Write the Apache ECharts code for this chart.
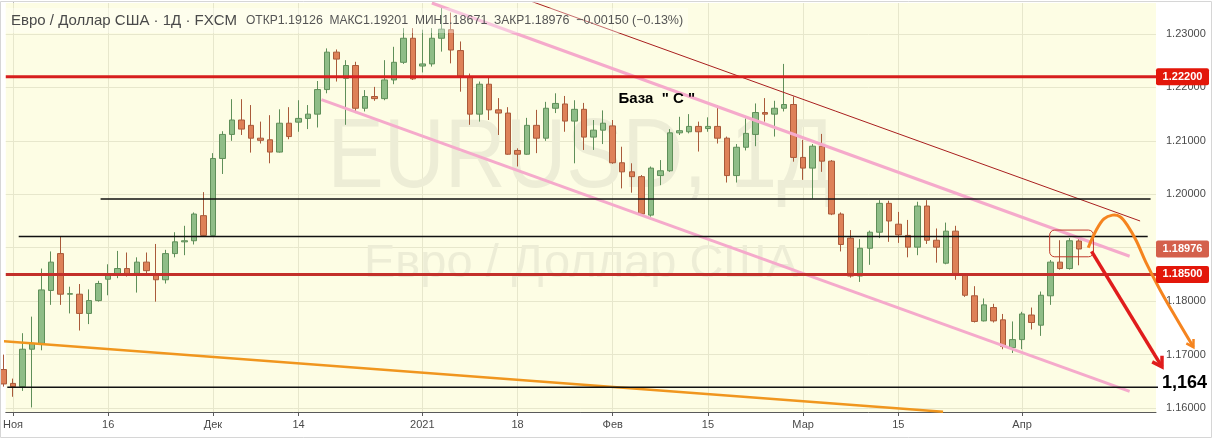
<!DOCTYPE html>
<html>
<head>
<meta charset="utf-8">
<script src="https://cdn.jsdelivr.net/npm/echarts@6/dist/echarts.min.js"></script>
<style>
  html, body { margin: 0; padding: 0; background: #fff; }
  #chart { width: 1212px; height: 439px; }
</style>
</head>
<body>
<div id="chart"></div>
<script>
// EUR/USD daily, FXCM. bar index 0 = 2 Nov 2020, index 112 = 9 Apr 2021
// the first entry (index -1, 30 Oct) is cut off by the left edge
const firstBar = -1
const opens = [
  1.1672, 1.1646, 1.1640, 1.1710, 1.1721, 1.1820, 1.1889, 1.1813, 1.1813, 1.1777,
  1.1801, 1.1841, 1.1849, 1.1861, 1.1852, 1.1873, 1.1851, 1.1840, 1.1889, 1.1911,
  1.1913, 1.1960, 1.1923, 1.2067, 1.2112, 1.2139, 1.2129, 1.2105, 1.2102, 1.2079,
  1.2133, 1.2135, 1.2142, 1.2150, 1.2196, 1.2266, 1.2217, 1.2241, 1.2161, 1.2183,
  1.2179, 1.2214, 1.2247, 1.2292, 1.2240, 1.2244, 1.2292, 1.2308, 1.2269, 1.2219,
  1.2150, 1.2206, 1.2158, 1.2152, 1.2082, 1.2075, 1.2129, 1.2105, 1.2161, 1.2169,
  1.2137, 1.2159, 1.2107, 1.2120, 1.2128, 1.2059, 1.2042, 1.2033, 1.1961, 1.2035,
  1.2044, 1.2115, 1.2117, 1.2127, 1.2123, 1.2127, 1.2105, 1.2035, 1.2088, 1.2112,
  1.2153, 1.2150, 1.2161, 1.2168, 1.2069, 1.2049, 1.2090, 1.2062, 1.1963, 1.1918,
  1.1847, 1.1899, 1.1929, 1.1983, 1.1944, 1.1923, 1.1901, 1.1978, 1.1914, 1.1871,
  1.1931, 1.1849, 1.1810, 1.1763, 1.1788, 1.1765, 1.1713, 1.1728, 1.1774, 1.1755,
  1.1810, 1.1873, 1.1861, 1.19126
]
const closes = [
  1.1645, 1.1640, 1.1710, 1.1721, 1.1821, 1.1873, 1.1813, 1.1814, 1.1777, 1.1801,
  1.1833, 1.1849, 1.1861, 1.1849, 1.1873, 1.1857, 1.1840, 1.1889, 1.1911, 1.1913,
  1.1963, 1.1923, 1.2067, 1.2112, 1.2139, 1.2122, 1.2105, 1.2101, 1.2079, 1.2133,
  1.2108, 1.2142, 1.2150, 1.2196, 1.2266, 1.2253, 1.2241, 1.2161, 1.2183, 1.2179,
  1.2214, 1.2247, 1.2292, 1.2216, 1.2244, 1.2292, 1.2309, 1.2270, 1.2221, 1.2150,
  1.2206, 1.2158, 1.2152, 1.2075, 1.2075, 1.2129, 1.2105, 1.2161, 1.2170, 1.2137,
  1.2159, 1.2107, 1.2120, 1.2133, 1.2059, 1.2042, 1.2033, 1.1963, 1.2049, 1.2044,
  1.2115, 1.2119, 1.2127, 1.2117, 1.2127, 1.2105, 1.2035, 1.2088, 1.2114, 1.2153,
  1.2150, 1.2161, 1.2168, 1.2069, 1.2049, 1.2090, 1.2062, 1.1963, 1.1906, 1.1847,
  1.1899, 1.1929, 1.1983, 1.1950, 1.1924, 1.1901, 1.1978, 1.1914, 1.1901, 1.1931,
  1.1849, 1.1811, 1.1762, 1.1793, 1.1763, 1.1715, 1.1728, 1.1776, 1.1760, 1.1811,
  1.1873, 1.1861, 1.1913, 1.18976
]
const lows = [
  1.1640, 1.1621, 1.1632, 1.1601, 1.1708, 1.1793, 1.1793, 1.1777, 1.1745, 1.1757,
  1.1799, 1.1811, 1.1843, 1.1846, 1.1816, 1.1847, 1.1799, 1.1833, 1.1882, 1.1886,
  1.1906, 1.1921, 1.1921, 1.2038, 1.2100, 1.2111, 1.2078, 1.2095, 1.2058, 1.2078,
  1.2103, 1.2117, 1.2122, 1.2125, 1.2189, 1.2211, 1.2130, 1.2152, 1.2155, 1.2175,
  1.2176, 1.2206, 1.2244, 1.2214, 1.2228, 1.2239, 1.2267, 1.2245, 1.2192, 1.2130,
  1.2136, 1.2139, 1.2111, 1.2074, 1.2052, 1.2074, 1.2077, 1.2100, 1.2152, 1.2117,
  1.2058, 1.2083, 1.2083, 1.2094, 1.2057, 1.2011, 1.2003, 1.1961, 1.1958, 1.2017,
  1.2042, 1.2111, 1.2114, 1.2080, 1.2117, 1.2095, 1.2022, 1.2022, 1.2082, 1.2090,
  1.2136, 1.2108, 1.2155, 1.2061, 1.2027, 1.1992, 1.2042, 1.1961, 1.1893, 1.1844,
  1.1836, 1.1868, 1.1918, 1.1911, 1.1909, 1.1882, 1.1886, 1.1907, 1.1872, 1.1869,
  1.1840, 1.1808, 1.1760, 1.1762, 1.1760, 1.1710, 1.1703, 1.1710, 1.1747, 1.1735,
  1.1793, 1.1859, 1.1859, 1.18671
]
const highs = [
  1.1700, 1.1655, 1.1740, 1.1771, 1.1861, 1.1893, 1.1921, 1.1827, 1.1832, 1.1822,
  1.1838, 1.1869, 1.1894, 1.1891, 1.1882, 1.1891, 1.1907, 1.1896, 1.1929, 1.1941,
  1.1966, 1.2004, 1.2077, 1.2118, 1.2178, 1.2178, 1.2167, 1.2136, 1.2148, 1.2159,
  1.2163, 1.2176, 1.2167, 1.2212, 1.2273, 1.2271, 1.2251, 1.2248, 1.2195, 1.2201,
  1.2251, 1.2276, 1.2311, 1.2311, 1.2308, 1.2311, 1.2349, 1.2340, 1.2286, 1.2226,
  1.2211, 1.2220, 1.2180, 1.2163, 1.2086, 1.2143, 1.2158, 1.2173, 1.2189, 1.2184,
  1.2176, 1.2171, 1.2139, 1.2157, 1.2139, 1.2089, 1.2058, 1.2036, 1.2052, 1.2064,
  1.2122, 1.2145, 1.2150, 1.2136, 1.2144, 1.2167, 1.2108, 1.2094, 1.2142, 1.2170,
  1.2180, 1.2175, 1.2244, 1.2183, 1.2102, 1.2094, 1.2113, 1.2064, 1.1966, 1.1933,
  1.1916, 1.1932, 1.1989, 1.1988, 1.1967, 1.1952, 1.1986, 1.1989, 1.1936, 1.1947,
  1.1941, 1.1852, 1.1828, 1.1805, 1.1795, 1.1776, 1.1762, 1.1780, 1.1788, 1.1818,
  1.1877, 1.1914, 1.1918, 1.19201
]

// axis labels
const dateTickIdx = [0, 10, 21, 30, 43, 53, 63, 73, 83, 93, 106]
const dateTickText = ['Ноя', '16', 'Дек', '14', '2021', '18', 'Фев', '15', 'Мар', '15', 'Апр']
const priceTicks = [1.16, 1.17, 1.18, 1.19, 1.20, 1.21, 1.22, 1.23]

// drawings, as [bar index, price]
const redLevels = [1.222, 1.185]
const levelTop = [[9.2, 1.1991], [119.5, 1.1991]]
const levelMid = [[0.6, 1.1921], [119.2, 1.1921]]
const levelLow = [[-0.6, 1.1639], [121, 1.1639]]
const channelTop = [[44.0, 1.2358], [117.3, 1.1884]]
const channelBottom = [[32.4, 1.2177], [117.3, 1.1631]]
const thinTrend = [[54.0, 1.2364], [118.4, 1.1950]]
const longTrend = [[-1.0, 1.1725], [97.7, 1.1593]]
const orangePath = [
  [112.95, 1.1900], [113.8, 1.1933], [114.6, 1.1954], [115.5, 1.1961], [116.3, 1.1958],
  [117.1, 1.1941], [118.0, 1.1913], [119.0, 1.1873], [120.5, 1.1821], [122.3, 1.1765], [124.0, 1.1714]
]
const redArrow = [[113.3, 1.1893], [120.7, 1.1677]]
const markBox = [[108.9, 1.1933], [113.5, 1.1883]]
const baseLabel = { text: 'База  " С "', at: [63.6, 1.2178] }
const priceTags = [1.222, 1.18976, 1.185]
const targetLabel = { text: '1,164', price: 1.1639 }

const viewFrom = -0.76
const viewTo = 120.07
const priceMin = 1.15925
const priceMax = 1.2358

const candles = opens.map((o, k) => [firstBar + k, o, closes[k], lows[k], highs[k]])

const font = 'Liberation Sans'

function line(data, color, width, extra) {
  return Object.assign({
    type: 'line',
    data: data,
    symbol: 'none',
    silent: true,
    z: 3,
    lineStyle: { color: color, width: width }
  }, extra || {})
}

const chart = echarts.init(document.getElementById('chart'))

const option = {
  animation: false,
  backgroundColor: '#ffffff',
  textStyle: { fontFamily: font },
  grid: {
    left: 2, right: 56, top: 3, bottom: 27,
    show: true, backgroundColor: '#fdfde4', borderWidth: 0
  },
  xAxis: {
    type: 'value',
    min: viewFrom,
    max: viewTo,
    axisLine: { show: true, onZero: false, lineStyle: { color: '#5a5a5a' } },
    axisTick: { show: true, customValues: dateTickIdx, length: 4, lineStyle: { color: '#5a5a5a' } },
    axisLabel: {
      customValues: dateTickIdx,
      formatter: v => dateTickText[dateTickIdx.indexOf(v)],
      color: '#4a4a4a', fontSize: 11, margin: 7
    },
    splitLine: { show: false }
  },
  yAxis: {
    type: 'value',
    position: 'right',
    min: priceMin,
    max: priceMax,
    axisLine: { show: true, lineStyle: { color: '#5a5a5a' } },
    axisTick: { show: true, customValues: priceTicks, length: 5, lineStyle: { color: '#5a5a5a' } },
    axisLabel: {
      customValues: priceTicks,
      formatter: v => v.toFixed(5),
      color: '#4a4a4a', fontSize: 11, margin: 10
    },
    splitLine: { show: false }
  },
  series: [
    {
      // background grid
      type: 'line',
      data: [],
      z: 1,
      silent: true,
      markLine: {
        silent: true,
        z: 1,
        symbol: 'none',
        label: { show: false },
        lineStyle: { color: '#e7e7cc', width: 1, type: 'solid' },
        data: dateTickIdx.map(v => ({ xAxis: v })).concat(priceTicks.map(v => ({ yAxis: v })))
      }
    },
    {
      type: 'candlestick',
      data: candles,
      encode: { x: 0, y: [1, 2, 3, 4] },
      barWidth: 6,
      clip: false,
      z: 2,
      itemStyle: {
        color: '#8fbd87',
        color0: '#de8158',
        borderColor: '#5f8f59',
        borderColor0: '#a95a3a',
        borderWidth: 1
      }
    },
    line(longTrend, '#f0961e', 2.5),
    line(channelTop, '#f5aacb', 3),
    line(channelBottom, '#f5aacb', 3),
    line(thinTrend, '#a81e1e', 1),
    line(levelTop, '#111111', 1.5),
    line(levelMid, '#111111', 1.5),
    line(levelLow, '#111111', 1.5),
    line([[viewFrom, redLevels[0]], [viewTo, redLevels[0]]], '#d71e1e', 3),
    line([[viewFrom, redLevels[1]], [viewTo, redLevels[1]]], '#c3302a', 3)
  ]
}

chart.setOption(option)

const px = pt => chart.convertToPixel({ gridIndex: 0 }, pt)

function arrowHead(tail, tip, color, len, width) {
  const a = px(tail), b = px(tip)
  const ang = Math.atan2(b[1] - a[1], b[0] - a[0])
  const s = 0.55
  return {
    type: 'polyline',
    z: 30,
    shape: {
      points: [
        [b[0] - len * Math.cos(ang - s), b[1] - len * Math.sin(ang - s)],
        b,
        [b[0] - len * Math.cos(ang + s), b[1] - len * Math.sin(ang + s)]
      ]
    },
    style: { stroke: color, lineWidth: width, fill: null, lineJoin: 'miter' }
  }
}

const plotLeft = px([viewFrom, priceMax])
const plotRight = px([viewTo, priceMin])
const cx = (plotLeft[0] + plotRight[0]) / 2
const axisX = plotRight[0]

const graphics = [
  // watermarks
  {
    type: 'text', x: cx, y: 160, z: 1, scaleX: 0.86,
    style: { text: 'EURUSD, 1Д', fill: '#ededd6', fontSize: 98, fontFamily: font, align: 'center', verticalAlign: 'middle' }
  },
  {
    type: 'text', x: cx, y: 264, z: 1,
    style: { text: 'Евро / Доллар США', fill: '#ededd6', fontSize: 47, fontFamily: font, align: 'center', verticalAlign: 'middle' }
  },
  // legend
  {
    type: 'rect', z: 20,
    shape: { x: 6, y: 8, width: 682, height: 25 },
    style: { fill: 'rgba(255,255,255,0.35)' }
  },
  {
    type: 'text', x: 11, y: 21, z: 21,
    style: { text: 'Евро / Доллар США · 1Д · FXCM', fill: '#4a4a4a', fontSize: 15, fontFamily: font, verticalAlign: 'middle' }
  },
  {
    type: 'text', x: 246, y: 21, z: 21,
    style: {
      text: '{l|ОТКР}{v|1.19126}  {l|МАКС}{v|1.19201}  {l|МИН}{v|1.18671}  {l|ЗАКР}{v|1.18976}  {v|−0.00150 (−0.13%)}',
      verticalAlign: 'middle',
      rich: {
        l: { fontSize: 12, fontFamily: font, fill: '#555555' },
        v: { fontSize: 12.5, fontFamily: font, fill: '#555555' }
      }
    }
  }
]

// label on the chart
const bl = px(baseLabel.at)
graphics.push({
  type: 'text', x: bl[0], y: bl[1], z: 25,
  style: { text: baseLabel.text, fill: '#000', fontSize: 15, fontWeight: 'bold', fontFamily: font, verticalAlign: 'middle' }
})

// rounded box around the last bars
const b1 = px(markBox[0]), b2 = px(markBox[1])
graphics.push({
  type: 'rect', z: 25,
  shape: { x: b1[0], y: b1[1], width: b2[0] - b1[0], height: b2[1] - b1[1], r: 5 },
  style: { fill: null, stroke: '#c0392b', lineWidth: 1 }
})

// forecast arrows, they run over the price scale
graphics.push({
  type: 'polyline', z: 30,
  shape: { points: orangePath.map(px), smooth: 0.35 },
  style: { stroke: '#f5841f', lineWidth: 3, fill: null }
})
graphics.push({
  type: 'polyline', z: 30,
  shape: { points: redArrow.map(px) },
  style: { stroke: '#e01c1c', lineWidth: 3.5, fill: null }
})
graphics.push(arrowHead(orangePath[orangePath.length - 2], orangePath[orangePath.length - 1], '#f5841f', 8, 2.5))
graphics.push(arrowHead(redArrow[0], redArrow[1], '#e01c1c', 11, 3.5))

// price tags on the axis
const tagColors = ['#e3170a', '#d4604c', '#e3170a']
priceTags.forEach((v, k) => {
  const y = px([viewTo, v])[1]
  graphics.push({
    type: 'rect', z: 40,
    shape: { x: axisX, y: y - 8.5, width: 53, height: 17, r: 2 },
    style: { fill: tagColors[k] }
  })
  graphics.push({
    type: 'text', x: axisX + 26.5, y: y, z: 41,
    style: { text: v.toFixed(5), fill: '#fff', fontSize: 11, fontWeight: 'bold', fontFamily: font, align: 'center', verticalAlign: 'middle' }
  })
})

const ty = px([viewTo, targetLabel.price])[1]
graphics.push({
  type: 'text', x: axisX + 6, y: ty - 4, z: 41,
  style: { text: targetLabel.text, fill: '#000', fontSize: 18, fontWeight: 'bold', fontFamily: font, verticalAlign: 'middle' }
})

// outer frame
graphics.push({
  type: 'rect', z: 50,
  shape: { x: 0.5, y: 1.5, width: 1211, height: 436 },
  style: { fill: null, stroke: '#d6d6d6', lineWidth: 1 }
})

chart.setOption({ graphic: graphics })
</script>
</body>
</html>
